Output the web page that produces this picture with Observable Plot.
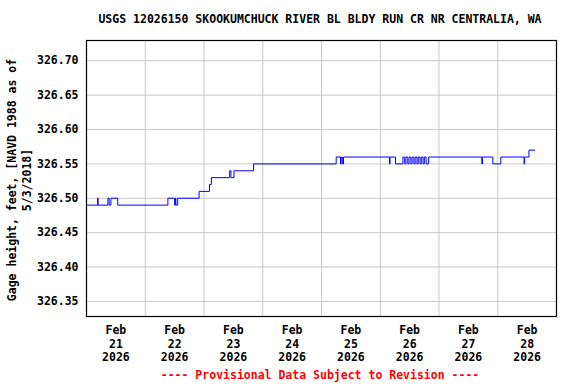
<!DOCTYPE html>
<html>
<head>
<meta charset="utf-8">
<script src="https://cdn.jsdelivr.net/npm/d3@7"></script>
<script src="https://cdn.jsdelivr.net/npm/@observablehq/plot@0.6"></script>
<style>
  html, body { margin: 0; padding: 0; background: #fff; }
  #chart svg { display: block; }
</style>
</head>
<body>
<div id="chart"></div>
<script>
const titleText = "USGS 12026150 SKOOKUMCHUCK RIVER BL BLDY RUN CR NR CENTRALIA, WA";
const yLabelLines = ["Gage height, feet, [NAVD 1988 as of", "5/3/2018]"];
const footerText = "---- Provisional Data Subject to Revision ----";

// Breakpoints of the stepped gage-height record (UTC)
const times = [
  "2026-02-21T00:00", "2026-02-21T04:30", "2026-02-21T04:45", "2026-02-21T08:45",
  "2026-02-21T09:15", "2026-02-21T10:00", "2026-02-21T12:45", "2026-02-22T09:15",
  "2026-02-22T12:00", "2026-02-22T12:15", "2026-02-22T12:30", "2026-02-22T13:15",
  "2026-02-22T22:00", "2026-02-23T02:15", "2026-02-23T03:00", "2026-02-23T10:30",
  "2026-02-23T11:00", "2026-02-23T12:15", "2026-02-23T20:15", "2026-02-25T06:00",
  "2026-02-25T07:45", "2026-02-25T08:00", "2026-02-25T08:30", "2026-02-25T09:00",
  "2026-02-26T03:45", "2026-02-26T04:00", "2026-02-26T06:15", "2026-02-26T09:15",
  "2026-02-26T10:00", "2026-02-26T10:30", "2026-02-26T11:15", "2026-02-26T11:45",
  "2026-02-26T12:30", "2026-02-26T13:00", "2026-02-26T13:45", "2026-02-26T14:15",
  "2026-02-26T15:00", "2026-02-26T15:30", "2026-02-26T16:15", "2026-02-26T16:45",
  "2026-02-26T17:30", "2026-02-26T18:00", "2026-02-26T18:45", "2026-02-26T19:45",
  "2026-02-27T17:30", "2026-02-27T17:45", "2026-02-27T22:00", "2026-02-28T01:15",
  "2026-02-28T10:45", "2026-02-28T11:00", "2026-02-28T12:45", "2026-02-28T15:15"
];
const values = [
  326.49, 326.50, 326.49, 326.50,
  326.49, 326.50, 326.49, 326.50,
  326.49, 326.50, 326.49, 326.50,
  326.51, 326.52, 326.53, 326.54,
  326.53, 326.54, 326.55, 326.56,
  326.55, 326.56, 326.55, 326.56,
  326.55, 326.56, 326.55, 326.56,
  326.55, 326.56, 326.55, 326.56,
  326.55, 326.56, 326.55, 326.56,
  326.55, 326.56, 326.55, 326.56,
  326.55, 326.56, 326.55, 326.56,
  326.55, 326.56, 326.55, 326.56,
  326.55, 326.56, 326.57, 326.57
];

const xDomain = ["2026-02-21T00:00", "2026-03-01T00:00"];
const gridDays = ["2026-02-22", "2026-02-23", "2026-02-24", "2026-02-25", "2026-02-26", "2026-02-27", "2026-02-28"];
const labelDays = ["2026-02-21", "2026-02-22", "2026-02-23", "2026-02-24", "2026-02-25", "2026-02-26", "2026-02-27", "2026-02-28"];
const tickLabels = ["Feb\n21\n2026", "Feb\n22\n2026", "Feb\n23\n2026", "Feb\n24\n2026",
                    "Feb\n25\n2026", "Feb\n26\n2026", "Feb\n27\n2026", "Feb\n28\n2026"];
const yTicks = [326.35, 326.40, 326.45, 326.50, 326.55, 326.60, 326.65, 326.70];
const yDomain = [326.328, 326.7295];

const utc = s => new Date(s.length === 10 ? s + "T00:00Z" : s + "Z");
const data = times.map((t, i) => ({ t: utc(t), v: values[i] }));
const gridDates = gridDays.map(utc);
const noonDates = labelDays.map(d => new Date(utc(d).getTime() + 12 * 3600 * 1000));

const W = 576, H = 384;
const M = { left: 86, right: 20, top: 40, bottom: 68 };
const FONT = "'DejaVu Sans Mono', monospace";

const plot = Plot.plot({
  width: W, height: H,
  marginLeft: M.left, marginRight: M.right, marginTop: M.top, marginBottom: M.bottom,
  style: { fontFamily: FONT, fontSize: "11.5px", fontWeight: "bold", background: "#fff", color: "#000" },
  x: { type: "utc", domain: xDomain.map(utc) },
  y: { domain: yDomain },
  marks: [
    Plot.gridY(yTicks, { stroke: "#c8c8c8", strokeOpacity: 1, strokeWidth: 1 }),
    Plot.gridX(gridDates, { stroke: "#c8c8c8", strokeOpacity: 1, strokeWidth: 1 }),
    Plot.line(data, { x: "t", y: "v", stroke: "#0000ff", strokeWidth: 1, curve: "step-after" }),
    Plot.axisY({ ticks: yTicks, tickFormat: d3.format(".2f"), tickSize: 0, tickPadding: 8, label: null, fontWeight: "bold" }),
    Plot.axisX({ ticks: noonDates, tickFormat: (d, i) => tickLabels[i], tickSize: 0, tickPadding: 8, label: null, lineHeight: 1.18, fontWeight: "bold" }),
    Plot.frame({ stroke: "#000", strokeWidth: 1.2 })
  ]
});

const svg = d3.select(plot);
svg.append("text")
  .attr("x", 320).attr("y", 23).attr("text-anchor", "middle")
  .attr("font-family", FONT).attr("font-size", "11.5px").attr("font-weight", "bold")
  .attr("fill", "#000").text(titleText);
svg.append("text")
  .attr("x", 320).attr("y", 379).attr("text-anchor", "middle")
  .attr("font-family", FONT).attr("font-size", "11.5px").attr("font-weight", "bold")
  .attr("fill", "#ff0000").text(footerText);
const yl = svg.append("text")
  .attr("transform", "translate(16,180) rotate(-90)")
  .attr("text-anchor", "middle")
  .attr("font-family", FONT).attr("font-size", "11.5px").attr("font-weight", "bold")
  .attr("fill", "#000");
yl.append("tspan").attr("x", 0).attr("dy", 0).text(yLabelLines[0]);
yl.append("tspan").attr("x", 0).attr("dy", 15).text(yLabelLines[1]);

document.getElementById("chart").appendChild(plot);
</script>
</body>
</html>
